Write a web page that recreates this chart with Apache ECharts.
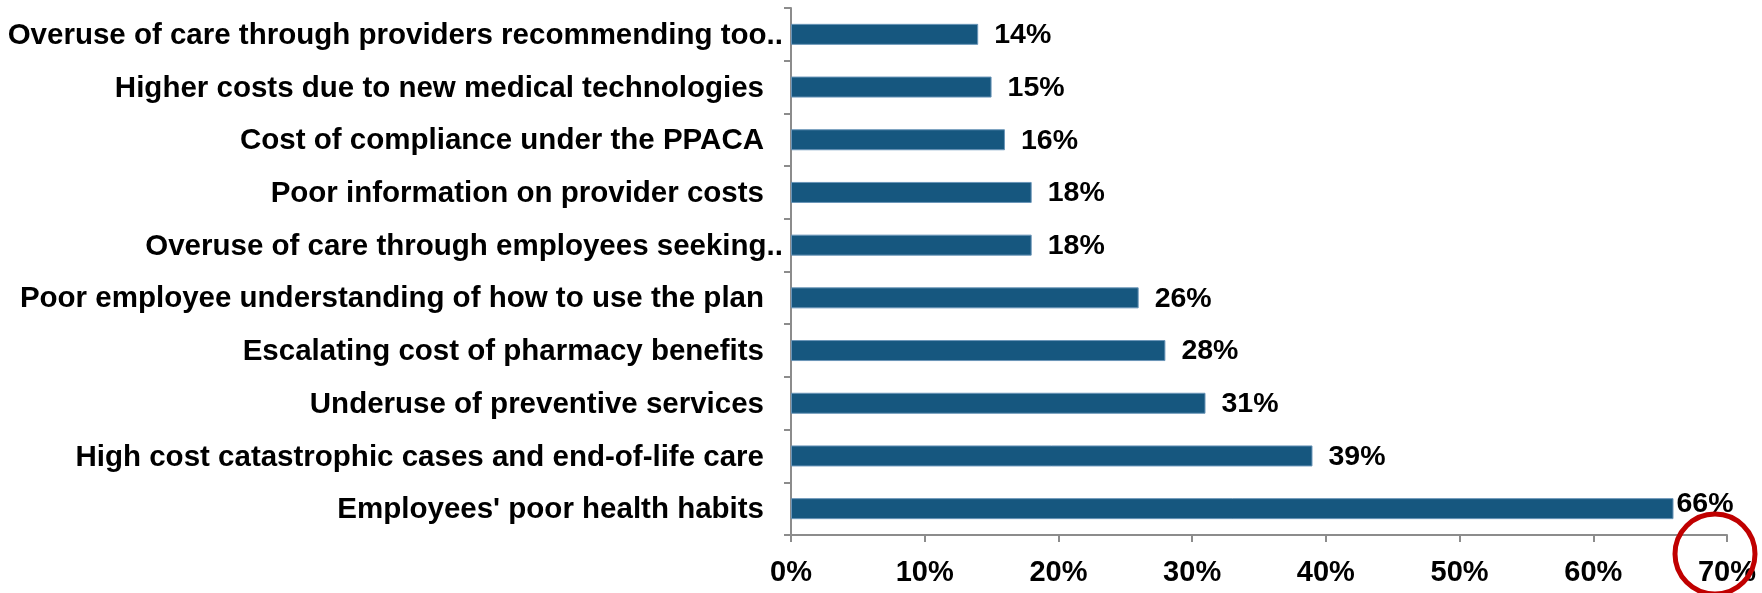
<!DOCTYPE html>
<html>
<head>
<meta charset="utf-8">
<script src="https://cdn.jsdelivr.net/npm/echarts@6/dist/echarts.min.js"></script>
<style>html,body{margin:0;padding:0;background:#fff}#c{width:1762px;height:593px}</style>
</head>
<body>
<div id="c"></div>
<script>
const categories = [
  "Overuse of care through providers recommending too..",
  "Higher costs due to new medical technologies",
  "Cost of compliance under the PPACA",
  "Poor information on provider costs",
  "Overuse of care through employees seeking..",
  "Poor employee understanding of how to use the plan",
  "Escalating cost of pharmacy benefits",
  "Underuse of preventive services",
  "High cost catastrophic cases and end-of-life care",
  "Employees' poor health habits"
];
const values = [14, 15, 16, 18, 18, 26, 28, 31, 39, 66];
const xTicks = [0, 10, 20, 30, 40, 50, 60, 70];

const chart = echarts.init(document.getElementById('c'), null, {renderer: 'canvas'});
const FONT = '"Liberation Sans", Arial, sans-serif';
const last = values.length - 1;
const data = values.map((v, i) => i === last ? {
  value: v,
  label: {distance: 3, offset: [0, -5]}
} : v);

chart.setOption({
  backgroundColor: '#ffffff',
  animation: false,
  grid: {left: 791, right: 35, top: 8, bottom: 58, containLabel: false},
  xAxis: {
    type: 'value',
    min: xTicks[0], max: xTicks[xTicks.length - 1], interval: 10,
    axisLine: {show: true, lineStyle: {color: '#8c8c8c', width: 2}},
    axisTick: {show: true, length: 7, lineStyle: {color: '#8c8c8c', width: 2}},
    splitLine: {show: false},
    axisLabel: {
      formatter: v => v + '%', margin: 23,
      fontFamily: FONT, fontWeight: 'bold', fontSize: 29, color: '#000'
    }
  },
  yAxis: {
    type: 'category', inverse: true, data: categories,
    axisLine: {show: true, lineStyle: {color: '#8c8c8c', width: 2}},
    axisTick: {show: true, length: 7, lineStyle: {color: '#8c8c8c', width: 2}},
    axisLabel: {
      margin: 8,
      formatter: v => v.endsWith('..') ? '{e|' + v + '}' : '{n|' + v + '}',
      rich: {
        n: {fontFamily: FONT, fontWeight: 'bold', fontSize: 29.5, color: '#000', padding: [3, 19, 0, 0]},
        e: {fontFamily: FONT, fontWeight: 'bold', fontSize: 29.5, color: '#000', padding: [3, 0, 0, 0]}
      }
    }
  },
  series: [{
    type: 'bar', data: data, barWidth: 21,
    itemStyle: {color: '#16577f', borderColor: '#6a95b8', borderWidth: 1},
    label: {
      show: true, position: 'right', distance: 16, offset: [0, 1],
      formatter: p => p.value + '%',
      fontFamily: FONT, fontWeight: 'bold', fontSize: 28.5, color: '#000'
    }
  }],
  graphic: [{
    type: 'circle', shape: {cx: 1715, cy: 554, r: 40},
    style: {fill: 'none', stroke: '#c00000', lineWidth: 5}, z: 100
  }]
});
</script>
</body>
</html>
